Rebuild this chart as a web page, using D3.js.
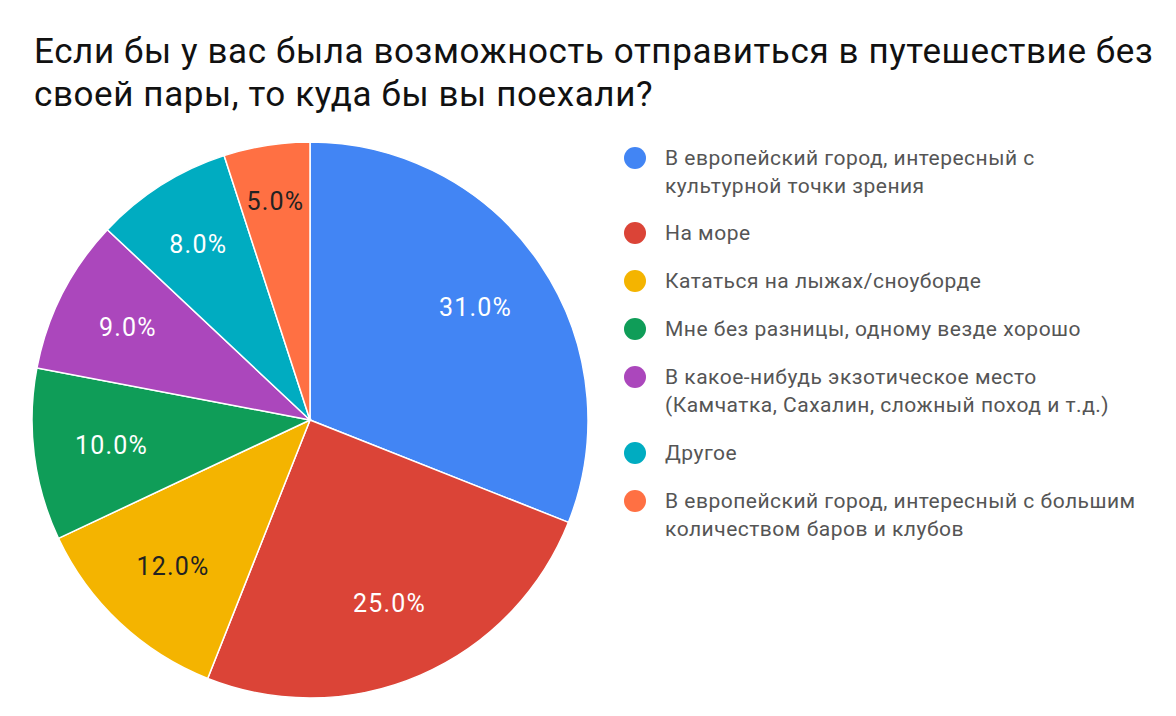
<!DOCTYPE html>
<html><head><meta charset="utf-8">
<script src="https://cdn.jsdelivr.net/npm/d3@7"></script>
<style>body{margin:0;background:#fff;font-family:Roboto,"Noto Sans",sans-serif;}</style>
</head><body>
<svg id="c" width="1176" height="716"></svg>
<script>
const titleLines = ["Если бы у вас была возможность отправиться в путешествие без", "своей пары, то куда бы вы поехали?"];
const categories = [
  ["В европейский город, интересный с", "культурной точки зрения"],
  ["На море"],
  ["Кататься на лыжах/сноуборде"],
  ["Мне без разницы, одному везде хорошо"],
  ["В какое-нибудь экзотическое место", "(Камчатка, Сахалин, сложный поход и т.д.)"],
  ["Другое"],
  ["В европейский город, интересный с большим", "количеством баров и клубов"]
];
const values = [31, 25, 12, 10, 9, 8, 5];
const colors = ["#4285f4", "#db4437", "#f4b400", "#0f9d58", "#ab47bc", "#00acc1", "#ff7043"];
const labelColors = ["#fff", "#fff", "#222", "#fff", "#fff", "#fff", "#222"];

const svg = d3.select("#c");
svg.append("g").selectAll("text").data(titleLines).join("text")
  .attr("x", 34).attr("y", (d, i) => 63 + i * 43)
  .attr("font-size", 35).attr("letter-spacing", 0.6).attr("fill", "#111").text(d => d);

const cx = 310, cy = 420, r = 278;
const total = d3.sum(values);
const pie = d3.pie().sort(null).value(d => d);
const arcs = pie(values);
const arc = d3.arc().innerRadius(0).outerRadius(r);
const g = svg.append("g").attr("transform", `translate(${cx},${cy})`);
g.selectAll("path").data(arcs).join("path")
  .attr("d", arc).attr("fill", (d, i) => colors[i])
  .attr("stroke", "#fff").attr("stroke-width", 1.5);
g.selectAll("text").data(arcs).join("text")
  .attr("transform", d => {
    const f = d.data / total;
    const lr = r * (0.72 + Math.max(0, 0.1 - f) * 1.5);
    return `translate(${d3.arc().innerRadius(lr).outerRadius(lr).centroid(d)})`;
  })
  .attr("text-anchor", "middle").attr("dy", "0.35em")
  .attr("font-size", 25).attr("letter-spacing", 1.2).attr("fill", (d, i) => labelColors[i])
  .text(d => d.data.toFixed(1) + "%");

// legend
const legY = [158, 233, 281, 329, 377, 453, 501];
const lg = svg.append("g");
categories.forEach((lines, i) => {
  const y = legY[i];
  lg.append("circle").attr("cx", 635).attr("cy", y).attr("r", 11).attr("fill", colors[i]);
  lines.forEach((t, j) => {
    lg.append("text").attr("x", 665).attr("y", y + j * 28).attr("dy", "0.35em")
      .attr("font-size", 21).attr("letter-spacing", 0.5).attr("fill", "#555").text(t);
  });
});
</script>
</body></html>
